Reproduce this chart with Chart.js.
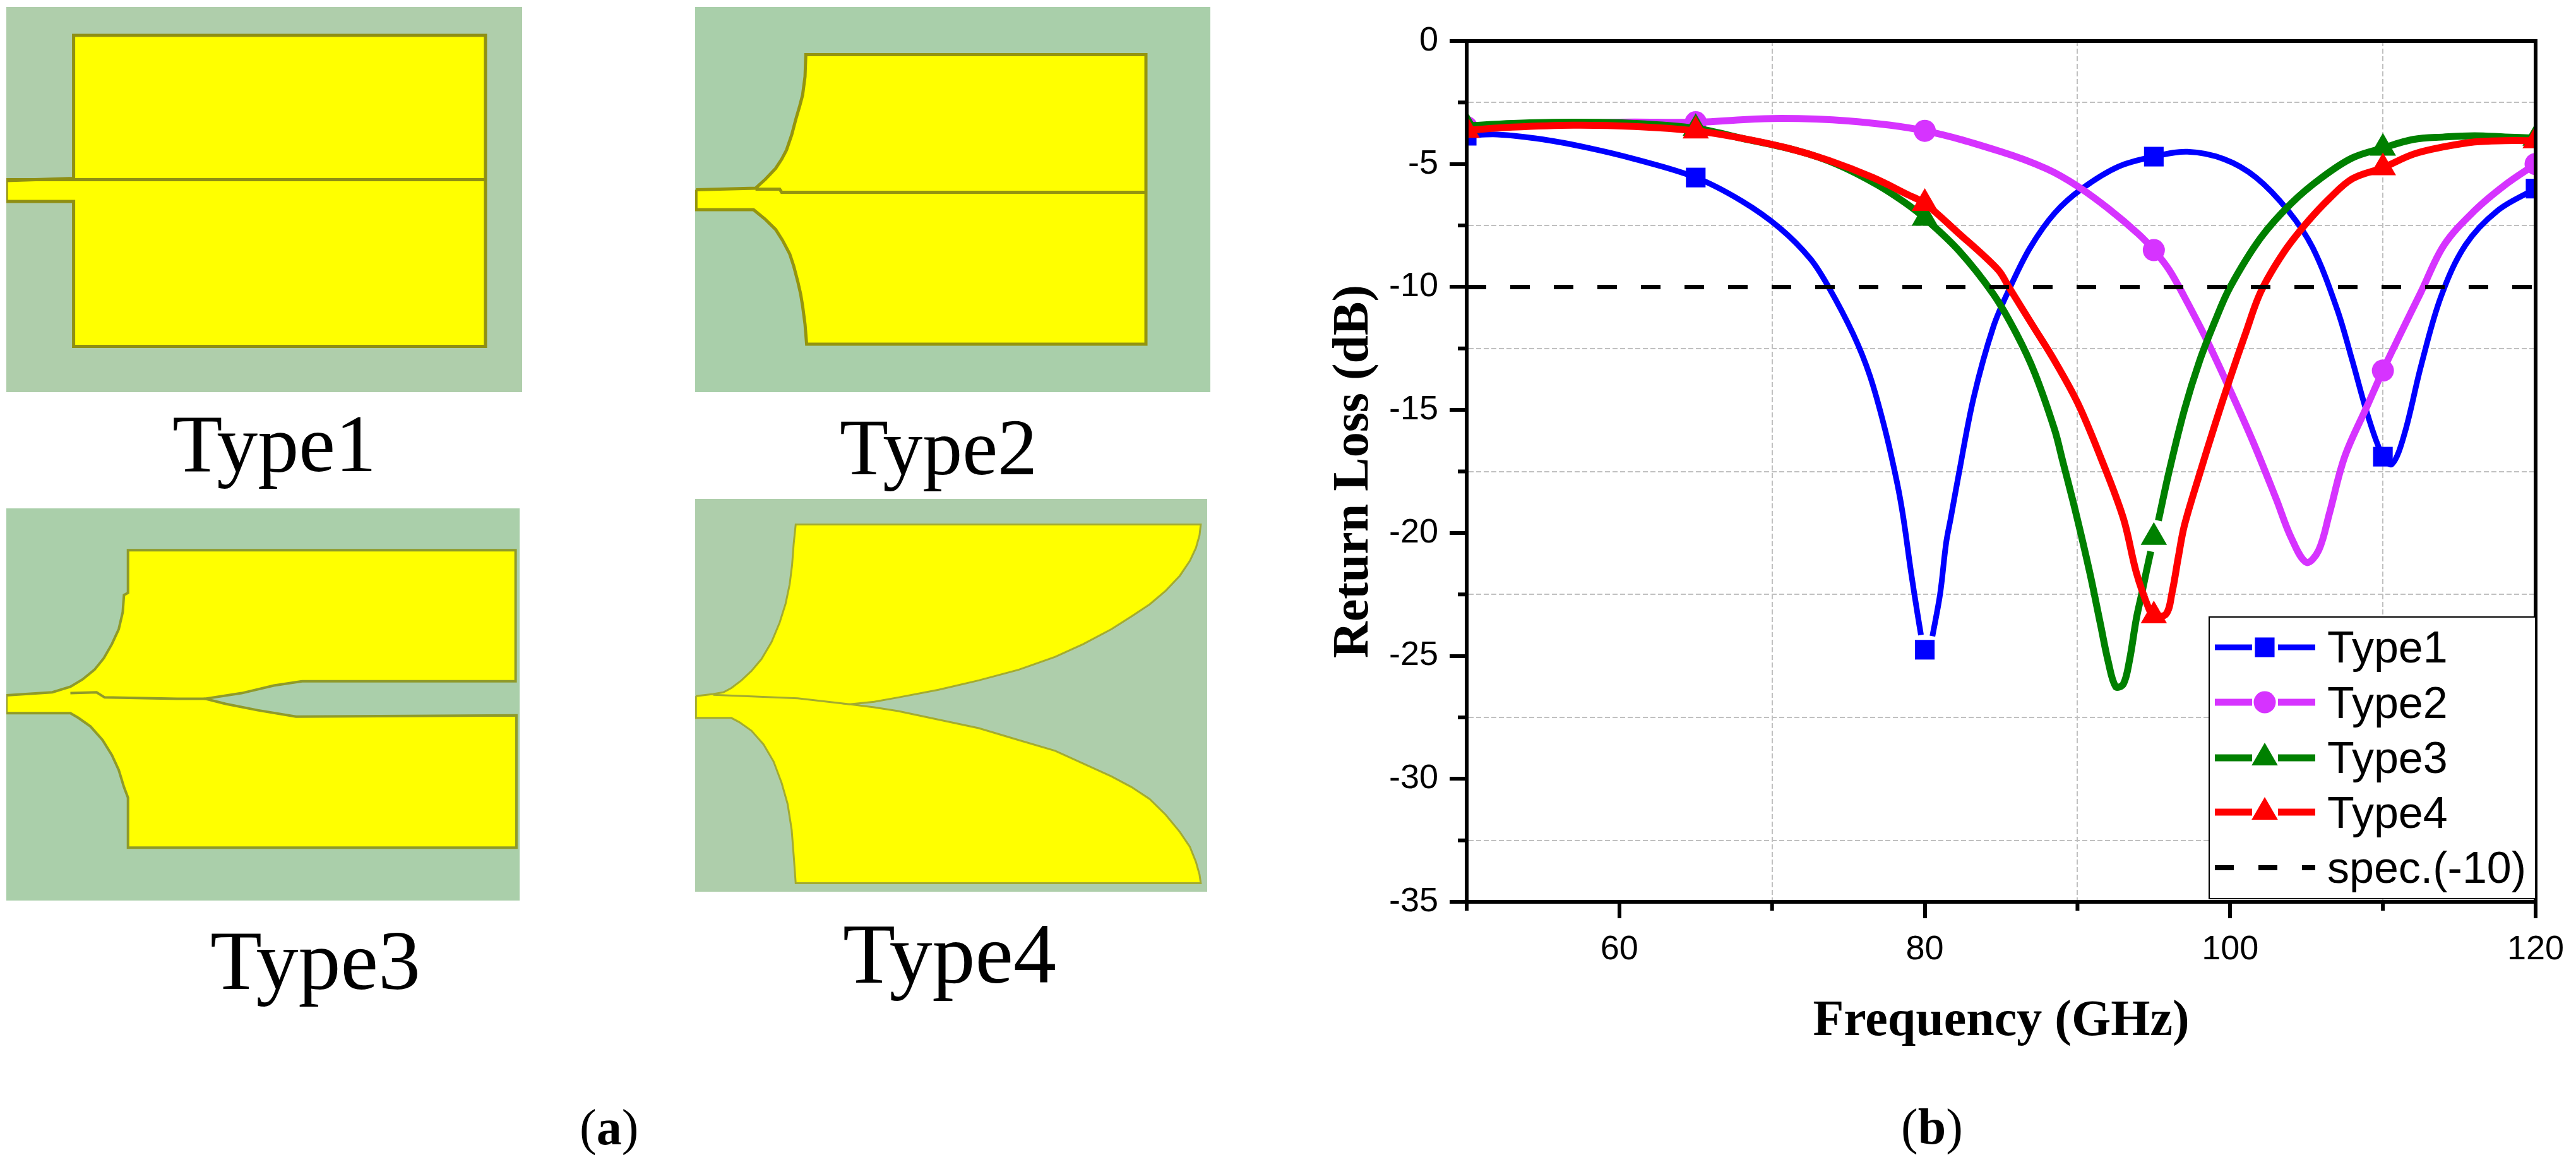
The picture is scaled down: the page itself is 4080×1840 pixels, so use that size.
<!DOCTYPE html>
<html>
<head>
<meta charset="utf-8">
<title>Return loss</title>
<script src="https://cdn.jsdelivr.net/npm/chart.js@4/dist/chart.umd.js"></script>
<style>
html, body { margin: 0; padding: 0; background: #fff; }
body { position: relative; width: 4080px; height: 1840px; overflow: hidden; }
canvas { position: absolute; display: block; }
.cap { position: absolute; font-family: "Liberation Serif", serif; line-height: 1; color: #000; white-space: nowrap; }
</style>
</head>
<body>
<canvas id="patch1" width="817" height="610" style="left:10px;top:11px;background:#afceab"></canvas>
<canvas id="patch2" width="816" height="610" style="left:1101px;top:11px;background:#a9cfaa"></canvas>
<canvas id="patch3" width="813" height="621" style="left:10px;top:805px;background:#aacfaa"></canvas>
<canvas id="patch4" width="811" height="622" style="left:1101px;top:790px;background:#aeceab"></canvas>
<canvas id="myChart" width="2000" height="1840" style="left:2080px;top:0"></canvas>

<div class="cap" style="left:273px;top:637px;font-size:130px">Type1</div>
<div class="cap" style="left:1330px;top:646px;font-size:126px">Type2</div>
<div class="cap" style="left:333px;top:1454px;font-size:134px">Type3</div>
<div class="cap" style="left:1335px;top:1442px;font-size:136px">Type4</div>
<div class="cap" style="left:918px;top:1745px;font-size:80px">(<b>a</b>)</div>
<div class="cap" style="left:3011px;top:1744px;font-size:80px">(<b>b</b>)</div>

<script>
//Return loss curves - frequency in GHz, loss in dB (null = line stops around a symbol)
var type1Freq = [50,52,55,58,61,65,68,70.5,72.5,73.7,75.3,76.4,77.4,78.2,78.6,79.1,79.5,79.75,80,80.5,81,81.4,81.7,82.2,83.2,84.5,85.6,86.9,88.5,90.3,92.7,95,97.2,99.6,101.7,103.8,105.4,107,108,109,110,110.6,111.4,112.5,113.8,115.4,117.5,120];
var type1Loss = [-3.85,-3.8,-4,-4.35,-4.8,-5.55,-6.5,-7.6,-8.85,-10,-11.9,-13.6,-15.8,-18,-19.4,-21.6,-23.2,-24.15,null,-24.2,-22.5,-20.4,-19.4,-17.7,-14.5,-11.6,-10,-8.4,-7,-6,-5.1,-4.7,-4.5,-4.8,-5.55,-6.9,-8.4,-10.9,-13,-15.2,-16.9,-17.2,-16,-13.2,-10.4,-8.3,-6.9,-6];
var type1GapFreq = [80];
var type1GapLoss = [-24.75];

var type2Freq = [50,60,65,70,75,80,85,88,90,92,94,95,96,97,98.5,100,101.5,103,104,105,105.8,106.5,107.5,109,110,111,112.5,114,116,118,120];
var type2Loss = [-3.5,-3.3,-3.3,-3.15,-3.25,-3.65,-4.5,-5.2,-5.9,-6.8,-7.85,-8.5,-9.3,-10.4,-12.2,-14.2,-16.3,-18.6,-20.2,-21.2,-20.7,-19.2,-16.9,-14.8,-13.4,-12.1,-10.2,-8.3,-6.9,-5.85,-5];

var type3Freq = [50,53,57,61,65,68,71.6,74.2,76.9,79,80,82.2,84.5,86,87.2,88.5,89,89.9,90.8,91.5,92,92.5,93,93.4,93.85,94.2,94.5,94.8,95,95.3,96,97,98,99,100,102,104,106,108,110,112,114,116,118,120];
var type3Loss = [-3.45,-3.35,-3.3,-3.35,-3.55,-3.95,-4.45,-5,-5.85,-6.7,-7.2,-8.5,-10.3,-11.9,-13.5,-15.8,-17,-19.2,-21.6,-23.7,-25.2,-26.25,-26.15,-25.2,-23.5,-22.5,-21.6,-20.75,null,-19.5,-17.5,-15,-13,-11.4,-10,-8,-6.6,-5.55,-4.75,-4.35,-4,-3.9,-3.85,-3.9,-3.95];
var type3GapFreq = [95];
var type3GapLoss = [-20.18];

var type4Freq = [50,53,57,61,65,68,71,73.7,76.6,78.9,80,82.1,84.8,85.5,87,88.5,90,91.5,93,93.85,94.66,95,95.8,96.2,96.6,97,98,99,100,101,102,103.5,105,106.5,108,110,112,114,116,118,120];
var type4Loss = [-3.63,-3.5,-3.42,-3.47,-3.65,-3.95,-4.35,-4.85,-5.55,-6.25,-6.6,-7.75,-9.3,-10,-11.5,-13,-14.7,-16.9,-19.4,-21.6,-23.06,-23.37,-23.3,-22.4,-21,-19.7,-17.6,-15.6,-13.7,-11.9,-10.2,-8.6,-7.4,-6.4,-5.6,-5.15,-4.6,-4.3,-4.1,-4.05,-4.05];

var specFreq = [50,120];
var specLoss = [-10,-10];

var seriesNames = ["Type1","Type2","Type3","Type4","spec.(-10)"];
var markerFreq = [50,65,80,95,110,120];

var xTickLabels = [60,80,100,120];
var xMinorTicks = [50,70,90,110];
var yTickLabels = [0,-5,-10,-15,-20,-25,-30,-35];
var yMinorTicks = [-2.5,-7.5,-12.5,-17.5,-22.5,-27.5,-32.5];

//Patch outlines, traced in crop units of each panel
var patch1Outline = [[16,590],[183,583],[183,115],[1205,115],[1205,1132],[183,1132],[183,658],[16,658],[16,590]];
var patch1Slot = [[16,587],[1205,587]];

var patch2Outline = [[97,620],[245,615],[270,585],[295,550],[310,520],[322,490],[335,440],[345,390],[355,345],[362,310],[368,250],[370,178],[1215,178],[1215,1125],[372,1125],[368,1060],[362,1000],[357,960],[350,920],[340,870],[330,830],[312,785],[295,750],[268,715],[240,685],[97,685],[97,620]];
var patch2Slot = [[245,618],[305,618],[310,628],[1215,628]];

var patch3Outline = [[16,475],[130,468],[175,455],[205,438],[235,415],[258,388],[278,355],[295,320],[305,280],[308,240],[318,235],[318,135],[1280,135],[1280,442],[750,442],[680,452],[600,470],[510,483],[560,495],[640,510],[735,525],[1282,522],[1282,832],[318,832],[318,715],[308,690],[295,650],[278,615],[255,580],[225,548],[195,528],[175,517],[16,517],[16,475]];
var patch3Slot = [[175,470],[240,468],[260,480],[440,483],[510,483]];

var patch4Outline = [[97,477],[140,472],[165,468],[185,458],[210,440],[235,418],[260,390],[285,350],[305,305],[320,260],[330,215],[336,170],[340,120],[345,75],[1352,75],[1349,100],[1340,130],[1325,160],[1300,195],[1265,230],[1225,262],[1180,290],[1130,320],[1060,355],[990,385],[900,415],[800,440],[700,462],[600,480],[540,490],[480,496],[540,503],[600,512],[700,532],[800,552],[900,580],[990,605],[1060,635],[1130,665],[1180,690],[1225,718],[1265,755],[1300,795],[1325,830],[1340,865],[1349,895],[1352,915],[345,915],[340,850],[335,790],[325,730],[310,680],[290,630],[265,590],[235,558],[205,538],[185,528],[97,528],[97,477]];
var patch4Slot = [[140,474],[350,482],[480,496]];

function toPoints(xs, ys) {
    var out = [];
    for (var i = 0; i < xs.length; i++) {
        out.push({x: xs[i], y: ys[i]});
    }
    return out;
}

function pairs(list) {
    return list.map(function(p) { return {x: p[0], y: p[1]}; });
}

function drawPatch(id, outline, slot, xr, yr, edge, width) {
    new Chart(document.getElementById(id), {
        type: 'scatter',
        data: {
            datasets: [
                {data: pairs(slot), showLine: true, borderColor: edge, borderWidth: width, pointRadius: 0, clip: false},
                {data: pairs(outline), showLine: true, fill: 'shape', backgroundColor: '#ffff00', borderColor: edge, borderWidth: width, pointRadius: 0, clip: false}
            ]
        },
        options: {
            responsive: false,
            animation: false,
            devicePixelRatio: 1,
            layout: {padding: 0},
            plugins: {legend: {display: false}, tooltip: {enabled: false}},
            scales: {
                x: {display: false, min: xr[0], max: xr[1]},
                y: {display: false, min: yr[0], max: yr[1], reverse: true}
            }
        }
    });
}

drawPatch('patch1', patch1Outline, patch1Slot, [16,1296], [22,1282], '#8f8f14', 5);
drawPatch('patch2', patch2Outline, patch2Slot, [95,1375], [22,1282], '#949410', 5);
drawPatch('patch3', patch3Outline, patch3Slot, [16,1290], [37,956], '#8f9a2a', 4);
drawPatch('patch4', patch4Outline, patch4Slot, [95,1368], [15,935], '#a3ab30', 3);

function curve(name, xs, ys, s, order) {
    return {
        label: name,
        data: toPoints(xs, ys),
        showLine: true,
        borderColor: s.color,
        backgroundColor: s.color,
        borderWidth: s.width,
        tension: 0.35,
        spanGaps: false,
        pointStyle: s.style,
        pointRadius: function(ctx) {
            var p = ctx.raw;
            return p && markerFreq.indexOf(p.x) >= 0 ? s.r : 0;
        },
        pointBorderWidth: 0,
        pointBackgroundColor: s.color,
        clip: 0,
        order: order
    };
}

// a symbol that stands off its line
function lonePoint(xs, ys, s, order) {
    return {
        data: toPoints(xs, ys),
        showLine: false,
        pointStyle: s.style,
        pointRadius: s.r,
        pointBorderWidth: 0,
        pointBackgroundColor: s.color,
        clip: 0,
        order: order
    };
}

var samples = [
    {color: '#0000ff', width: 9, style: 'rect', r: 22},
    {color: '#d633ff', width: 11, style: 'circle', r: 17.5},
    {color: '#008000', width: 11, style: 'triangle', r: 24},
    {color: '#ff0000', width: 11, style: 'triangle', r: 24}
];

var framePlugin = {
    id: 'frame',
    afterDatasetsDraw: function(chart) {
        var c = chart.ctx, a = chart.chartArea, xs = chart.scales.x, ys = chart.scales.y;

        c.save();
        c.strokeStyle = '#000';
        c.lineWidth = 6;
        c.setLineDash([]);
        c.beginPath();
        c.moveTo(a.left, a.top);
        c.lineTo(a.right, a.top);
        c.lineTo(a.right, a.bottom);
        c.lineTo(a.left, a.bottom);
        c.closePath();
        xMinorTicks.forEach(function(v) {
            var p = xs.getPixelForValue(v);
            c.moveTo(p, a.bottom);
            c.lineTo(p, a.bottom + 14);
        });
        yMinorTicks.forEach(function(v) {
            var p = ys.getPixelForValue(v);
            c.moveTo(a.left, p);
            c.lineTo(a.left - 14, p);
        });
        c.stroke();
        c.restore();

        drawLegend(c, a);
    }
};

function drawLegend(c, a) {
    var boxL = a.right - 517, boxT = 977, boxB = 1423;
    var rowY = [1025,1112,1200,1286,1374];
    var baseY = [1049,1137,1224,1311,1398];
    var lineL = boxL + 9, lineR = boxL + 168, mid = boxL + 88;

    c.save();
    c.fillStyle = '#fff';
    c.fillRect(boxL, boxT, a.right - boxL, boxB - boxT);
    c.strokeStyle = '#000';
    c.lineWidth = 2;
    c.strokeRect(boxL, boxT, a.right - boxL, boxB - boxT);

    for (var i = 0; i < seriesNames.length; i++) {
        c.beginPath();
        if (i < samples.length) {
            var s = samples[i];
            c.strokeStyle = s.color;
            c.lineWidth = s.width;
            c.moveTo(lineL, rowY[i]);
            c.lineTo(mid - 20, rowY[i]);
            c.moveTo(mid + 21, rowY[i]);
            c.lineTo(lineR, rowY[i]);
            c.stroke();
            c.fillStyle = s.color;
            Chart.helpers.drawPoint(c, {pointStyle: s.style, radius: s.r, borderWidth: 0, rotation: 0}, mid, rowY[i]);
        } else {
            c.strokeStyle = '#000';
            c.lineWidth = 8;
            c.setLineDash([30,39]);
            c.moveTo(lineL, rowY[i]);
            c.lineTo(lineR, rowY[i]);
            c.stroke();
            c.setLineDash([]);
        }
        c.fillStyle = '#000';
        c.font = '70px "Liberation Sans"';
        c.textAlign = 'left';
        c.textBaseline = 'alphabetic';
        c.fillText(seriesNames[i], boxL + 187, baseY[i]);
    }
    c.restore();
}

function graph() {
    const ctx = document.getElementById('myChart').getContext('2d');
    new Chart(ctx, {
        type: 'scatter',
        data: {
            datasets: [
                curve(seriesNames[0], type1Freq, type1Loss, samples[0], 5),
                lonePoint(type1GapFreq, type1GapLoss, samples[0], 5),
                curve(seriesNames[1], type2Freq, type2Loss, samples[1], 4),
                curve(seriesNames[2], type3Freq, type3Loss, samples[2], 3),
                lonePoint(type3GapFreq, type3GapLoss, samples[2], 3),
                curve(seriesNames[3], type4Freq, type4Loss, samples[3], 2),
                {
                    label: seriesNames[4],
                    data: toPoints(specFreq, specLoss),
                    showLine: true,
                    borderColor: '#000',
                    borderWidth: 7,
                    borderDash: [31,38],
                    pointRadius: 0,
                    clip: 0,
                    order: 1
                }
            ]
        },
        options: {
            responsive: false,
            animation: false,
            devicePixelRatio: 1,
            layout: {padding: {top: 65, right: 64, left: 0, bottom: 0}},
            plugins: {legend: {display: false}, tooltip: {enabled: false}},
            scales: {
                x: {
                    type: 'linear',
                    min: 50,
                    max: 120,
                    afterFit: function(s) { s.height = 412; },
                    ticks: {
                        stepSize: 10,
                        autoSkip: false,
                        maxRotation: 0,
                        padding: 18,
                        color: '#000',
                        font: {family: '"Liberation Sans"', size: 54},
                        callback: function(v) { return xTickLabels.indexOf(v) >= 0 ? String(v) : ''; }
                    },
                    grid: {
                        color: function(c) { return xMinorTicks.indexOf(c.tick.value) >= 0 ? '#c0c0c0' : 'rgba(0,0,0,0)'; },
                        lineWidth: 2,
                        tickLength: 26,
                        tickWidth: 6,
                        tickColor: function(c) { return xTickLabels.indexOf(c.tick.value) >= 0 ? '#000' : 'rgba(0,0,0,0)'; }
                    },
                    border: {display: true, color: '#000', width: 6, dash: [8,4]},
                    title: {
                        display: true,
                        text: 'Frequency (GHz)',
                        color: '#000',
                        font: {family: '"Liberation Serif"', size: 80, weight: 'bold', lineHeight: 1},
                        padding: {top: 0, bottom: 182}
                    }
                },
                y: {
                    type: 'linear',
                    min: -35,
                    max: 0,
                    afterFit: function(s) { s.width = 243; },
                    ticks: {
                        stepSize: 2.5,
                        autoSkip: false,
                        padding: 18,
                        color: '#000',
                        font: {family: '"Liberation Sans"', size: 54},
                        callback: function(v) { return yTickLabels.indexOf(v) >= 0 ? String(v) : ''; }
                    },
                    grid: {
                        color: function(c) { return yMinorTicks.indexOf(c.tick.value) >= 0 ? '#c0c0c0' : 'rgba(0,0,0,0)'; },
                        lineWidth: 2,
                        tickLength: 27,
                        tickWidth: 6,
                        tickColor: function(c) { return yTickLabels.indexOf(c.tick.value) >= 0 ? '#000' : 'rgba(0,0,0,0)'; }
                    },
                    border: {display: true, color: '#000', width: 6, dash: [8,4]},
                    title: {
                        display: true,
                        text: 'Return Loss (dB)',
                        color: '#000',
                        font: {family: '"Liberation Serif"', size: 80, weight: 'bold', lineHeight: 1},
                        padding: {top: 25, bottom: 0}
                    }
                }
            }
        },
        plugins: [framePlugin]
    });
}

graph();
</script>
</body>
</html>
